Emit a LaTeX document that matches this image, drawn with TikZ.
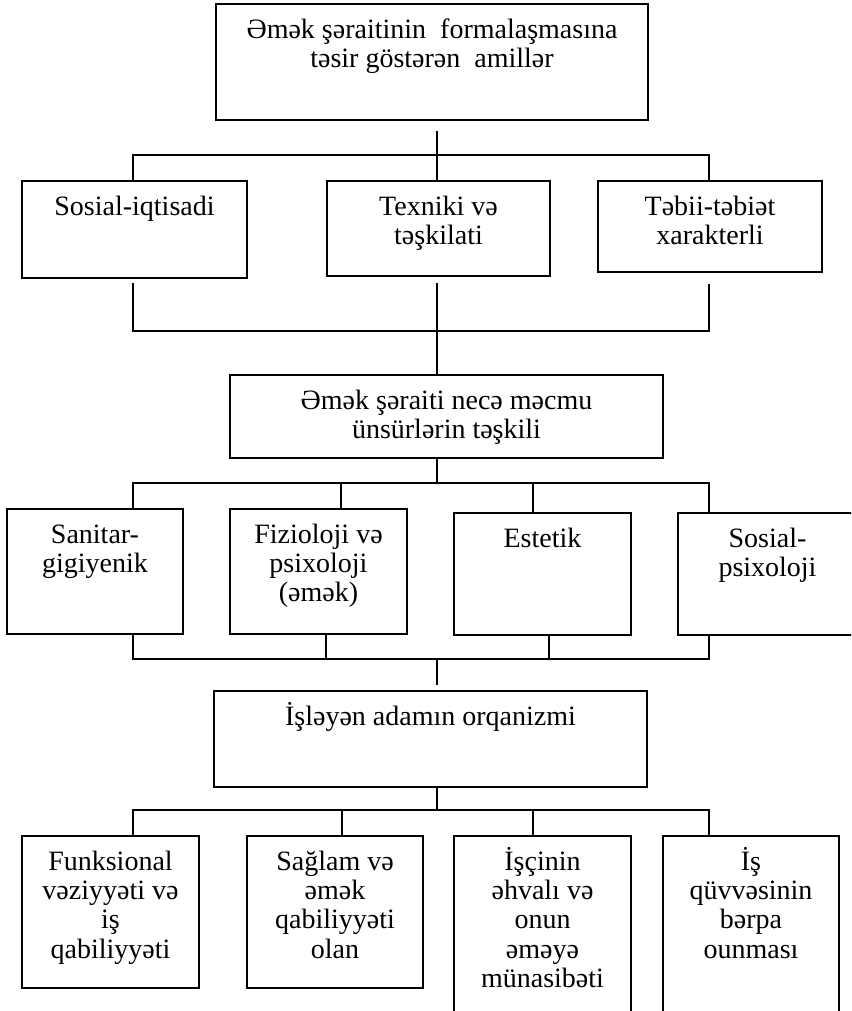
\documentclass[tikz,border=0pt]{standalone}
\usepackage{fontspec}
\setmainfont{Liberation Serif}
\newcommand\tstrut{\rule{0pt}{25pt}}
\begin{document}
\begin{tikzpicture}[x=1pt,y=-1pt,
  box/.style={draw, line width=2pt, inner sep=0pt, anchor=north west},
  lbl/.style={anchor=north, inner sep=0pt, align=center, font=\fontsize{28}{29.3}\selectfont},
  conn/.style={line width=1.5pt}]
\useasboundingbox (0,0) rectangle (851,1011);
\clip (0,0) rectangle (851,1011);
% boxes
\node[box, minimum width=432pt, minimum height=116pt] (top) at (215,3) {};
\node[box, minimum width=225pt, minimum height=97pt] (A) at (21,180) {};
\node[box, minimum width=223pt, minimum height=95pt] (B) at (326,180) {};
\node[box, minimum width=224pt, minimum height=91pt] (C) at (597,180) {};
\node[box, minimum width=433pt, minimum height=83pt] (mid) at (229,374) {};
\node[box, minimum width=176pt, minimum height=125pt] (r1) at (6,508) {};
\node[box, minimum width=177pt, minimum height=125pt] (r2) at (229,508) {};
\node[box, minimum width=177pt, minimum height=122pt] (r3) at (453,512) {};
\node[box, minimum width=179pt, minimum height=122pt] (r4) at (677,512) {};
\node[box, minimum width=433pt, minimum height=96pt] (org) at (213,690) {};
\node[box, minimum width=177pt, minimum height=152pt] (b1) at (21,835) {};
\node[box, minimum width=176pt, minimum height=152pt] (b2) at (246,835) {};
\node[box, minimum width=177pt, minimum height=200pt] (b3) at (453,835) {};
\node[box, minimum width=176pt, minimum height=200pt] (b4) at (662,835) {};
% labels
\node[lbl] (ttop) at ([yshift=-10pt]top.north) {\tstrut Əmək şəraitinin\ \ formalaşmasına\\təsir göstərən\ \ amillər};
\node[lbl] (tA) at ([yshift=-10pt]A.north) {\tstrut Sosial-iqtisadi};
\node[lbl] (tB) at ([yshift=-10pt]B.north) {\tstrut Texniki və\\təşkilati};
\node[lbl] (tC) at ([yshift=-10pt]C.north) {\tstrut Təbii-təbiət\\xarakterli};
\node[lbl] (tmid) at ([yshift=-10pt]mid.north) {\tstrut Əmək şəraiti necə məcmu\\ünsürlərin təşkili};
\node[lbl] (tr1) at ([yshift=-10pt]r1.north) {\tstrut Sanitar-\\gigiyenik};
\node[lbl] (tr2) at ([yshift=-10pt]r2.north) {\tstrut Fizioloji və\\psixoloji\\(əmək)};
\node[lbl] (tr3) at ([yshift=-10pt]r3.north) {\tstrut Estetik};
\node[lbl] (tr4) at ([yshift=-10pt]r4.north) {\tstrut Sosial-\\psixoloji};
\node[lbl] (torg) at ([yshift=-10pt]org.north) {\tstrut İşləyən adamın orqanizmi};
\node[lbl] (tb1) at ([yshift=-10pt]b1.north) {\tstrut Funksional\\vəziyyəti və\\iş\\qabiliyyəti};
\node[lbl] (tb2) at ([yshift=-10pt]b2.north) {\tstrut Sağlam və\\əmək\\qabiliyyəti\\olan};
\node[lbl] (tb3) at ([yshift=-10pt]b3.north) {\tstrut İşçinin\\əhvalı və\\onun\\əməyə\\münasibəti};
\node[lbl] (tb4) at ([yshift=-10pt]b4.north) {\tstrut İş\\qüvvəsinin\\bərpa\\ounması};
% junction coordinates
\coordinate (u1) at (437,155); \coordinate (u1l) at (133,155); \coordinate (u1r) at (709,155);
\coordinate (d1) at (437,331); \coordinate (d1l) at (133,331); \coordinate (d1r) at (709,331);
\coordinate (u2) at (437,483); \coordinate (u2a) at (133,483); \coordinate (u2b) at (341,483);
\coordinate (u2c) at (533,483); \coordinate (u2d) at (709,483);
\coordinate (d2) at (437,659); \coordinate (d2a) at (133,659); \coordinate (d2b) at (326,659);
\coordinate (d2c) at (549,659); \coordinate (d2d) at (709,659);
\coordinate (u3) at (437,810); \coordinate (u3a) at (133,810); \coordinate (u3b) at (342,810);
\coordinate (u3c) at (533,810); \coordinate (u3d) at (709,810);
% connectors
\draw[conn, shorten <=10pt] (top.south -| u1) -- (u1);
\draw[conn] (A.north -| u1l) -- (u1l) -- (u1r) -- (C.north -| u1r);
\draw[conn] (u1) -- (B.north -| u1);
\draw[conn, shorten <=4pt, shorten >=11pt] (A.south -| d1l) -- (d1l) -- (d1r) -- (C.south -| d1r);
\draw[conn, shorten <=6pt] (B.south -| d1) -- (d1) -- (mid.north -| d1);
\draw[conn] (mid.south -| u2) -- (u2);
\draw[conn] (r1.north -| u2a) -- (u2a) -- (u2d) -- (r4.north -| u2d);
\draw[conn] (u2b) -- (r2.north -| u2b);
\draw[conn] (u2c) -- (r3.north -| u2c);
\draw[conn] (r1.south -| d2a) -- (d2a) -- (d2d) -- (r4.south -| d2d);
\draw[conn] (r2.south -| d2b) -- (d2b);
\draw[conn] (r3.south -| d2c) -- (d2c);
\draw[conn, shorten >=5pt] (d2) -- (org.north -| d2);
\draw[conn] (org.south -| u3) -- (u3);
\draw[conn] (b1.north -| u3a) -- (u3a) -- (u3d) -- (b4.north -| u3d);
\draw[conn] (u3b) -- (b2.north -| u3b);
\draw[conn] (u3c) -- (b3.north -| u3c);
\end{tikzpicture}
\end{document}
